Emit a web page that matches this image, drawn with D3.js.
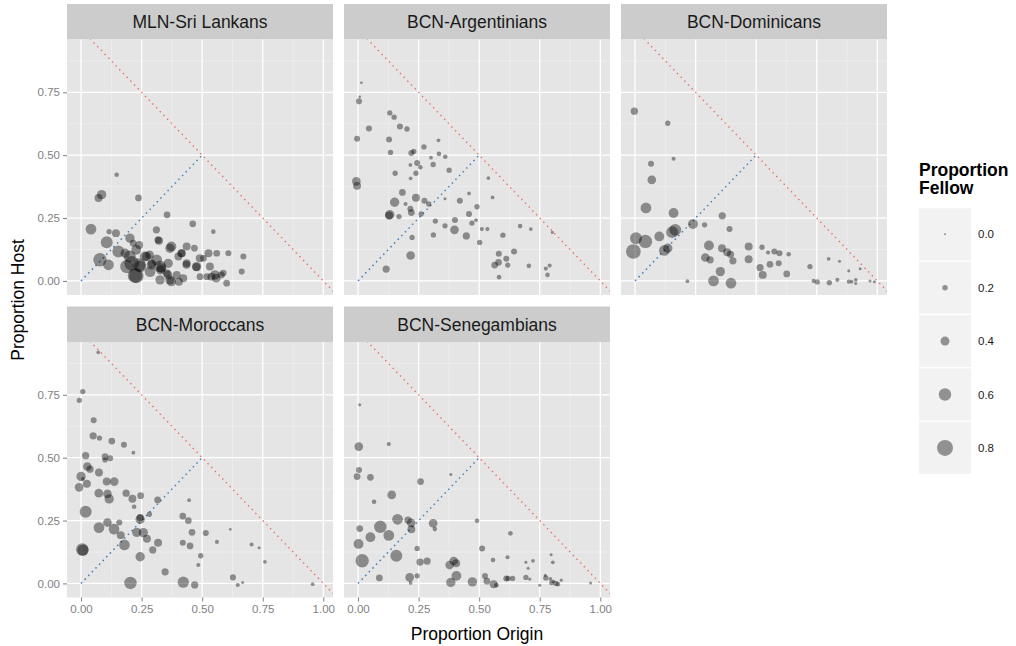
<!DOCTYPE html>
<html>
<head>
<meta charset="utf-8">
<script src="https://cdnjs.cloudflare.com/ajax/libs/d3/7.8.5/d3.min.js"></script>
<style>
  body { margin: 0; background: #fff; }
  text { font-family: "Liberation Sans", Arial, Helvetica, sans-serif; }
</style>
</head>
<body>
<svg class="facetChart"></svg>
<script>
// facet titles, in panel order
var groups = ["MLN-Sri Lankans", "BCN-Argentinians", "BCN-Dominicans", "BCN-Moroccans", "BCN-Senegambians"];

var xTicks = [0, 0.25, 0.5, 0.75, 1];
var yTicks = [0, 0.25, 0.5, 0.75];
var minorTicks = [0.125, 0.375, 0.625, 0.875];
var fellowBreaks = [0, 0.2, 0.4, 0.6, 0.8];

// [proportion origin, proportion host, proportion fellow]
var sriLankans = [
  [0.147,0.422,0.15],[0.085,0.343,0.42],[0.072,0.330,0.34],[0.237,0.330,0.27],[0.355,0.263,0.27],
  [0.461,0.227,0.27],[0.546,0.196,0.15],[0.041,0.206,0.50],[0.311,0.203,0.30],[0.144,0.190,0.34],
  [0.116,0.196,0.19],[0.202,0.170,0.42],[0.106,0.154,0.57],[0.240,0.143,0.34],[0.322,0.160,0.34],
  [0.367,0.130,0.42],[0.436,0.137,0.34],[0.468,0.130,0.27],[0.154,0.117,0.57],[0.078,0.084,0.65],
  [0.113,0.064,0.50],[0.209,0.070,0.72],[0.244,0.057,0.57],[0.223,0.021,0.72],[0.312,0.084,0.50],
  [0.326,0.057,0.57],[0.360,0.070,0.42],[0.402,0.097,0.34],[0.416,0.110,0.34],[0.436,0.070,0.34],
  [0.477,0.057,0.42],[0.505,0.090,0.27],[0.526,0.110,0.34],[0.560,0.110,0.27],[0.608,0.110,0.23],
  [0.670,0.097,0.23],[0.663,0.037,0.23],[0.532,0.057,0.34],[0.553,0.024,0.42],[0.519,0.017,0.27],
  [0.601,-0.009,0.27],[0.587,0.031,0.27],[0.395,0.024,0.34],[0.367,0.004,0.42],[0.422,0.011,0.34],
  [0.326,0.004,0.42],[0.354,0.031,0.34],[0.285,0.037,0.50],[0.189,0.057,0.65],[0.182,0.110,0.42],
  [0.271,0.097,0.42],[0.292,0.070,0.34],[0.491,0.017,0.27],[0.228,0.124,0.45],[0.239,0.064,0.65],
  [0.283,0.104,0.38],[0.332,0.051,0.45],[0.373,0.137,0.45],[0.435,0.064,0.34],[0.476,0.055,0.34],
  [0.558,0.011,0.38],[0.538,0.017,0.34],[0.579,0.024,0.27],[0.359,0.024,0.38],[0.329,0.044,0.42],
  [0.373,-0.003,0.42],[0.404,-0.003,0.34],[0.290,0.064,0.42],[0.318,0.163,0.30],[0.215,0.150,0.27],
  [0.263,0.097,0.45],[0.414,0.110,0.34],[0.490,0.090,0.34],[0.201,0.097,0.57],[0.228,0.020,0.72]
];

var argentinians = [
  [0.014,0.788,0.04],[0.007,0.732,0.04],[0.004,0.714,0.23],[-0.004,0.565,0.23],[0.045,0.606,0.23],
  [0.131,0.668,0.19],[0.149,0.651,0.19],[0.173,0.614,0.23],[0.202,0.604,0.19],[0.128,0.562,0.23],
  [0.134,0.511,0.19],[0.272,0.533,0.19],[0.332,0.559,0.10],[0.220,0.509,0.23],[0.230,0.515,0.19],
  [0.334,0.505,0.15],[0.360,0.494,0.15],[0.301,0.490,0.10],[0.244,0.469,0.23],[0.257,0.452,0.15],
  [0.216,0.461,0.10],[0.310,0.463,0.19],[0.239,0.428,0.19],[0.153,0.428,0.19],[0.217,0.408,0.10],
  [0.376,0.440,0.19],[0.538,0.409,0.10],[-0.007,0.396,0.38],[-0.004,0.378,0.34],[0.183,0.352,0.27],
  [0.151,0.313,0.42],[0.239,0.331,0.34],[0.274,0.319,0.23],[0.196,0.306,0.12],[0.292,0.306,0.19],
  [0.359,0.327,0.06],[0.458,0.348,0.10],[0.420,0.319,0.23],[0.555,0.332,0.10],[0.216,0.287,0.23],
  [0.131,0.263,0.42],[0.128,0.260,0.34],[0.169,0.256,0.19],[0.220,0.272,0.27],[0.260,0.266,0.19],
  [0.491,0.295,0.19],[0.458,0.266,0.23],[0.400,0.242,0.23],[0.319,0.238,0.19],[0.359,0.219,0.19],
  [0.487,0.242,0.10],[0.470,0.230,0.19],[0.398,0.203,0.38],[0.447,0.179,0.30],[0.311,0.183,0.19],
  [0.223,0.173,0.19],[0.511,0.206,0.12],[0.534,0.206,0.12],[0.598,0.182,0.19],[0.669,0.218,0.15],
  [0.713,0.206,0.10],[0.802,0.193,0.06],[0.502,0.153,0.19],[0.217,0.101,0.38],[0.116,0.047,0.30],
  [0.581,0.108,0.23],[0.644,0.117,0.23],[0.612,0.088,0.23],[0.580,0.074,0.27],[0.564,0.063,0.27],
  [0.618,0.063,0.19],[0.705,0.060,0.15],[0.582,0.015,0.15],[0.775,0.049,0.12],[0.791,0.061,0.12],
  [0.782,0.024,0.15]
];

var dominicans = [
  [-0.003,0.675,0.30],[0.135,0.627,0.19],[0.159,0.486,0.12],[0.066,0.466,0.23],[0.069,0.402,0.38],
  [0.045,0.290,0.50],[0.159,0.270,0.45],[0.360,0.259,0.30],[0.239,0.226,0.45],[0.287,0.223,0.19],
  [0.390,0.206,0.23],[0.166,0.203,0.57],[0.153,0.194,0.57],[0.100,0.177,0.45],[0.004,0.170,0.57],
  [0.043,0.157,0.65],[-0.007,0.117,0.72],[0.121,0.121,0.50],[0.135,0.130,0.42],[0.305,0.141,0.45],
  [0.359,0.130,0.34],[0.380,0.114,0.34],[0.394,0.106,0.30],[0.290,0.093,0.38],[0.310,0.084,0.30],
  [0.404,0.080,0.30],[0.469,0.137,0.34],[0.524,0.134,0.19],[0.469,0.086,0.34],[0.549,0.113,0.12],
  [0.575,0.117,0.23],[0.596,0.110,0.23],[0.634,0.106,0.15],[0.557,0.066,0.27],[0.593,0.070,0.23],
  [0.516,0.053,0.30],[0.527,0.024,0.34],[0.626,0.028,0.27],[0.324,0.000,0.50],[0.396,-0.009,0.50],
  [0.352,0.037,0.42],[0.216,-0.001,0.10],[0.722,0.057,0.19],[0.799,0.088,0.10],[0.844,0.078,0.06],
  [0.882,0.040,0.06],[0.929,0.048,0.06],[0.737,0.000,0.12],[0.752,-0.004,0.19],[0.802,-0.007,0.19],
  [0.835,0.004,0.12],[0.882,-0.003,0.12],[0.894,-0.003,0.10],[0.911,0.004,0.10],[0.911,-0.010,0.06],
  [0.970,0.000,0.06],[0.988,-0.003,0.06]
];

var moroccans = [
  [0.071,0.919,0.10],[0.007,0.763,0.19],[-0.007,0.728,0.19],[0.052,0.649,0.23],[0.050,0.587,0.30],
  [0.076,0.578,0.19],[0.127,0.566,0.27],[0.177,0.551,0.23],[0.216,0.520,0.10],[0.019,0.508,0.30],
  [0.099,0.504,0.27],[0.120,0.498,0.23],[0.099,0.491,0.19],[0.026,0.465,0.38],[0.037,0.454,0.30],
  [0.074,0.441,0.34],[0.000,0.425,0.42],[0.007,0.416,0.10],[0.106,0.405,0.34],[0.137,0.405,0.38],
  [0.024,0.396,0.34],[-0.008,0.382,0.38],[0.073,0.359,0.38],[0.109,0.356,0.38],[0.116,0.336,0.42],
  [0.186,0.359,0.30],[0.246,0.349,0.27],[0.212,0.337,0.34],[0.316,0.332,0.27],[0.219,0.305,0.15],
  [0.446,0.331,0.10],[0.019,0.285,0.57],[0.282,0.275,0.19],[0.244,0.255,0.42],[0.244,0.262,0.30],
  [0.420,0.268,0.27],[0.443,0.250,0.27],[0.158,0.242,0.23],[0.109,0.242,0.38],[0.074,0.222,0.50],
  [0.136,0.216,0.50],[0.257,0.202,0.42],[0.230,0.203,0.42],[0.164,0.192,0.34],[0.458,0.203,0.27],
  [0.515,0.200,0.23],[0.272,0.178,0.34],[0.616,0.215,0.04],[0.179,0.153,0.50],[0.318,0.162,0.34],
  [0.420,0.162,0.23],[0.450,0.149,0.27],[0.561,0.165,0.12],[0.704,0.155,0.12],[0.735,0.142,0.06],
  [0.005,0.135,0.60],[0.008,0.132,0.53],[0.296,0.133,0.30],[0.244,0.106,0.42],[0.494,0.110,0.19],
  [0.484,0.073,0.12],[0.759,0.086,0.10],[0.347,0.046,0.30],[0.627,0.024,0.23],[0.647,-0.006,0.12],
  [0.667,0.004,0.06],[0.204,0.002,0.60],[0.422,0.005,0.53],[0.469,-0.006,0.30],[0.956,-0.003,0.10]
];

var senegambians = [
  [0.007,0.710,0.06],[0.003,0.544,0.38],[0.127,0.554,0.12],[0.004,0.451,0.23],[-0.004,0.425,0.27],
  [0.051,0.422,0.27],[0.383,0.433,0.06],[0.258,0.405,0.27],[0.139,0.352,0.38],[0.066,0.325,0.15],
  [0.163,0.255,0.50],[0.206,0.252,0.30],[0.219,0.241,0.38],[0.220,0.215,0.34],[0.310,0.239,0.38],
  [0.317,0.216,0.15],[0.491,0.249,0.15],[0.092,0.225,0.60],[0.007,0.218,0.27],[0.127,0.191,0.50],
  [0.051,0.184,0.45],[0.629,0.199,0.15],[0.002,0.157,0.45],[0.244,0.139,0.19],[0.512,0.139,0.23],
  [0.158,0.110,0.57],[0.017,0.090,0.65],[0.256,0.085,0.30],[0.285,0.089,0.30],[0.395,0.089,0.38],
  [0.378,0.073,0.38],[0.405,0.080,0.34],[0.557,0.093,0.15],[0.617,0.104,0.12],[0.693,0.084,0.06],
  [0.722,0.090,0.10],[0.702,0.060,0.06],[0.797,0.114,0.06],[0.804,0.084,0.10],[0.088,0.022,0.27],
  [0.213,0.024,0.38],[0.244,0.030,0.19],[0.217,0.002,0.10],[0.406,0.030,0.45],[0.383,0.004,0.42],
  [0.472,0.006,0.42],[0.524,0.029,0.23],[0.532,0.009,0.27],[0.560,-0.003,0.34],[0.571,-0.007,0.15],
  [0.612,0.020,0.23],[0.619,0.020,0.19],[0.638,0.020,0.19],[0.693,0.024,0.19],[0.709,0.017,0.06],
  [0.750,-0.007,0.06],[0.775,0.022,0.19],[0.773,0.032,0.06],[0.794,0.018,0.10],[0.798,0.002,0.15],
  [0.816,0.000,0.19],[0.825,-0.003,0.15],[0.806,0.008,0.10],[0.839,0.013,0.06],[0.960,0.002,0.06]
];

var panelData = [sriLankans, argentinians, dominicans, moroccans, senegambians];

// layout
var panelW = 266, panelH = 255.5, stripH = 35.5, gap = 11;
var left0 = 67, top0 = 4;
var nCols = 3;

var svg = d3.select(".facetChart")
    .attr("width", 1016)
    .attr("height", 646);

// scales (ggplot style expansion)
var x = d3.scaleLinear().domain([-0.058, 1.04]).range([0, panelW]);
var y = d3.scaleLinear().domain([-0.056, 0.96]).range([panelH, 0]);
var r = d3.scaleLinear().domain([0, 0.8]).range([1, 8]);

var line = d3.line()
    .x(function(d) { return x(d[0]); })
    .y(function(d) { return y(d[1]); });

var defs = svg.append("defs");
defs.append("clipPath")
    .attr("id", "panelClip")
    .append("rect")
    .attr("width", panelW)
    .attr("height", panelH);

groups.forEach(function(name, i) {
    var col = i % nCols, row = Math.floor(i / nCols);
    var px = left0 + col * (panelW + gap);
    var py = top0 + row * (stripH + panelH + gap + 0.5) + stripH;

    var g = svg.append("g")
        .attr("transform", "translate(" + px + "," + py + ")");

    // strip
    g.append("rect")
        .attr("y", -stripH)
        .attr("width", panelW)
        .attr("height", stripH)
        .attr("fill", "#cccccc");
    g.append("text")
        .attr("x", panelW / 2)
        .attr("y", -stripH / 2)
        .attr("dy", "0.36em")
        .attr("text-anchor", "middle")
        .style("font-size", "17.5px")
        .attr("fill", "#1a1a1a")
        .text(name);

    // background + grid
    g.append("rect")
        .attr("width", panelW)
        .attr("height", panelH)
        .attr("fill", "#e5e5e5");

    g.selectAll(".vminor").data(minorTicks).enter().append("line")
        .attr("x1", x).attr("x2", x)
        .attr("y1", 0).attr("y2", panelH)
        .attr("stroke", "#f2f2f2").attr("stroke-width", 0.6);
    g.selectAll(".hminor").data(minorTicks).enter().append("line")
        .attr("y1", y).attr("y2", y)
        .attr("x1", 0).attr("x2", panelW)
        .attr("stroke", "#f2f2f2").attr("stroke-width", 0.6);
    g.selectAll(".vmajor").data(xTicks).enter().append("line")
        .attr("x1", x).attr("x2", x)
        .attr("y1", 0).attr("y2", panelH)
        .attr("stroke", "#ffffff").attr("stroke-width", 1.3);
    g.selectAll(".hmajor").data(yTicks).enter().append("line")
        .attr("y1", y).attr("y2", y)
        .attr("x1", 0).attr("x2", panelW)
        .attr("stroke", "#ffffff").attr("stroke-width", 1.3);

    var inner = g.append("g").attr("clip-path", "url(#panelClip)");

    // x + y = 1 reference
    inner.append("path")
        .datum([[-0.1, 1.1], [1.1, -0.1]])
        .attr("d", line)
        .attr("fill", "none")
        .attr("stroke", "#f26b63")
        .attr("stroke-width", 1.4)
        .attr("stroke-dasharray", "1.4,3.9");

    // y = x up to 0.5
    inner.append("path")
        .datum([[0, 0], [0.5, 0.5]])
        .attr("d", line)
        .attr("fill", "none")
        .attr("stroke", "#3f7fbf")
        .attr("stroke-width", 1.5)
        .attr("stroke-dasharray", "1.5,3.7");

    inner.selectAll(".pt")
        .data(panelData[i])
        .enter().append("circle")
        .attr("class", "pt")
        .attr("cx", function(d) { return x(d[0]); })
        .attr("cy", function(d) { return y(d[1]); })
        .attr("r", function(d) { return r(d[2]); })
        .attr("fill", "#000")
        .attr("fill-opacity", 0.4);

    // axes only on outer panels
    if (col == 0) {
        var ya = g.append("g")
            .call(d3.axisLeft(y).tickValues(yTicks).tickFormat(d3.format(".2f")).tickSize(4).tickPadding(3));
        ya.select(".domain").remove();
        ya.selectAll("line").attr("stroke", "#7f7f7f");
        ya.selectAll("text")
            .attr("fill", "#7f7f7f")
            .style("font-size", "11.5px")
            .style("font-family", "Liberation Sans, Arial, sans-serif");
    }
    if (row == 1) {
        var xa = g.append("g")
            .attr("transform", "translate(0," + panelH + ")")
            .call(d3.axisBottom(x).tickValues(xTicks).tickFormat(d3.format(".2f")).tickSize(4).tickPadding(3));
        xa.select(".domain").remove();
        xa.selectAll("line").attr("stroke", "#7f7f7f");
        xa.selectAll("text")
            .attr("fill", "#7f7f7f")
            .style("font-size", "11.5px")
            .style("font-family", "Liberation Sans, Arial, sans-serif");
    }
});

// axis titles
svg.append("text")
    .attr("x", left0 + (3 * panelW + 2 * gap) / 2)
    .attr("y", 640)
    .attr("text-anchor", "middle")
    .style("font-size", "17.5px")
    .text("Proportion Origin");

svg.append("text")
    .attr("transform", "translate(24,300) rotate(-90)")
    .attr("text-anchor", "middle")
    .style("font-size", "17.5px")
    .text("Proportion Host");

// legend
var legend = svg.append("g").attr("transform", "translate(919,0)");
legend.append("text")
    .attr("y", 175.5)
    .style("font-size", "17.5px")
    .style("font-weight", "bold")
    .text("Proportion");
legend.append("text")
    .attr("y", 193.5)
    .style("font-size", "17.5px")
    .style("font-weight", "bold")
    .text("Fellow");

var keySize = 52, keyStep = 53.4, keyTop = 208.3;
var keys = legend.selectAll(".key")
    .data(fellowBreaks)
    .enter().append("g")
    .attr("class", "key")
    .attr("transform", function(d, i) { return "translate(0," + (keyTop + i * keyStep) + ")"; });

keys.append("rect")
    .attr("width", keySize)
    .attr("height", keySize)
    .attr("fill", "#f2f2f2");
keys.append("circle")
    .attr("cx", keySize / 2)
    .attr("cy", keySize / 2)
    .attr("r", function(d) { return r(d); })
    .attr("fill", "#000")
    .attr("fill-opacity", 0.4);
keys.append("text")
    .attr("x", keySize + 7)
    .attr("y", keySize / 2)
    .attr("dy", "0.36em")
    .style("font-size", "11.5px")
    .attr("fill", "#1a1a1a")
    .text(function(d) { return d3.format(".1f")(d); });
</script>
</body>
</html>
